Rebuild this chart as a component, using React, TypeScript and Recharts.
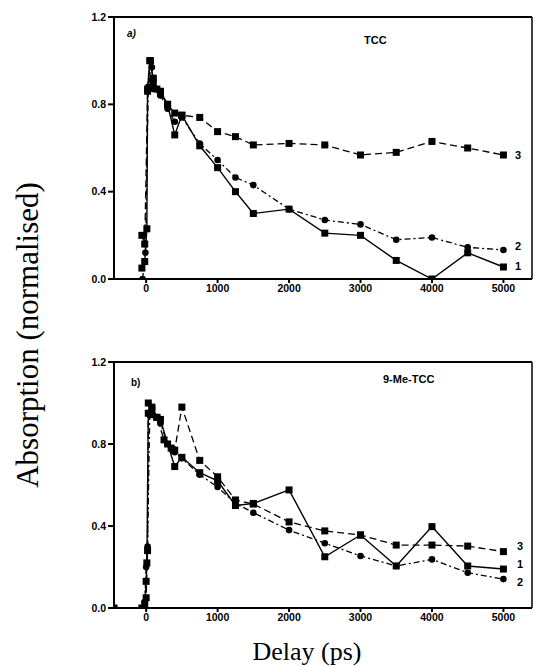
import React from 'react';
import { LineChart, Line, XAxis, YAxis, ReferenceLine } from 'recharts';

// panel a) TCC
const tccX1 = [-60, -20, 10, 20, 50, 100, 150, 200, 300, 400, 500, 750, 1000, 1250, 1500, 2000, 2500, 3000, 3500, 4000, 4500, 5000];
const tccY1 = [0.05, 0.08, 0.23, 0.87, 1.0, 0.92, 0.87, 0.85, 0.8, 0.66, 0.75, 0.61, 0.51, 0.4, 0.3, 0.32, 0.21, 0.2, 0.085, 0.0, 0.12, 0.055];
const tccX2 = [-50, -10, 30, 80, 100, 200, 300, 400, 500, 750, 1000, 1250, 1500, 2000, 2500, 3000, 3500, 4000, 4500, 5000];
const tccY2 = [0.0, 0.12, 0.88, 0.97, 0.87, 0.84, 0.78, 0.72, 0.74, 0.62, 0.545, 0.465, 0.43, 0.32, 0.27, 0.25, 0.18, 0.19, 0.145, 0.133];
const tccX3 = [-60, -20, 20, 60, 100, 200, 300, 400, 500, 750, 1000, 1250, 1500, 2000, 2500, 3000, 3500, 4000, 4500, 5000];
const tccY3 = [0.2, 0.16, 0.86, 1.0, 0.9, 0.86, 0.8, 0.76, 0.75, 0.74, 0.675, 0.652, 0.614, 0.621, 0.614, 0.568, 0.58, 0.63, 0.6, 0.568];

// panel b) 9-Me-TCC
const meX1 = [-20, 0, 10, 30, 80, 150, 200, 300, 400, 500, 750, 1000, 1250, 1500, 2000, 2500, 3000, 3500, 4000, 4500, 5000];
const meY1 = [0.02, 0.13, 0.22, 0.95, 0.98, 0.93, 0.92, 0.8, 0.69, 0.735, 0.66, 0.62, 0.5, 0.51, 0.576, 0.25, 0.356, 0.205, 0.397, 0.205, 0.19];
const meX2 = [-20, 0, 20, 50, 100, 200, 300, 400, 500, 750, 1000, 1250, 1500, 2000, 2500, 3000, 3500, 4000, 4500, 5000];
const meY2 = [0.03, 0.2, 0.3, 0.94, 0.94, 0.9, 0.8, 0.76, 0.73, 0.65, 0.59, 0.51, 0.465, 0.38, 0.316, 0.254, 0.205, 0.237, 0.172, 0.141];
const meX3 = [-450, -60, 0, 20, 30, 80, 150, 250, 350, 400, 500, 750, 1000, 1250, 1500, 2000, 2500, 3000, 3500, 4000, 4500, 5000];
const meY3 = [0.0, 0.0, 0.05, 0.28, 1.0, 0.97, 0.93, 0.82, 0.78, 0.77, 0.98, 0.72, 0.64, 0.527, 0.507, 0.42, 0.376, 0.356, 0.307, 0.307, 0.302, 0.275];

const xTicks = [0, 1000, 2000, 3000, 4000, 5000];
const yTicks = [0, 0.4, 0.8, 1.2];
const seriesLabels = ['1', '2', '3'];

const pts = (xs: number[], ys: number[]) => xs.map((x, i) => ({ x, y: ys[i] }));

const Square = (props: any) => {
  const { cx, cy, key } = props;
  if (cx == null || cy == null) return <g key={key} />;
  return <rect key={key} x={cx - 3.5} y={cy - 3.5} width={7} height={7} fill="#000" />;
};
const Circle = (props: any) => {
  const { cx, cy, key } = props;
  if (cx == null || cy == null) return <g key={key} />;
  return <circle key={key} cx={cx} cy={cy} r={3.3} fill="#000" />;
};

const tickStyle = { fontFamily: "'Liberation Sans', Arial, sans-serif", fontWeight: 700, fontSize: 10.5, fill: '#000' };
const serif = "'Liberation Serif', 'Times New Roman', 'DejaVu Serif', serif";

interface PanelProps {
  s1: { x: number; y: number }[];
  s2: { x: number; y: number }[];
  s3: { x: number; y: number }[];
  bottom: number;
}

const Panel: React.FC<PanelProps> = ({ s1, s2, s3, bottom }) => (
  <LineChart width={535} height={300} margin={{ top: 17, right: 3, left: 74, bottom }}>
    <XAxis
      type="number"
      dataKey="x"
      domain={[-450, 5400]}
      ticks={xTicks}
      allowDataOverflow
      height={20}
      tickSize={4}
      tick={tickStyle}
      stroke="#000"
      strokeWidth={2}
    />
    <YAxis
      type="number"
      dataKey="y"
      domain={[0, 1.2]}
      ticks={yTicks}
      allowDataOverflow
      width={40}
      tickSize={6}
      tick={tickStyle}
      tickFormatter={(v: number) => v.toFixed(1)}
      stroke="#000"
      strokeWidth={2}
    />
    <ReferenceLine y={1.2} stroke="#000" strokeWidth={2} />
    <ReferenceLine x={5400} stroke="#000" strokeWidth={1.5} />
    <Line data={s3} dataKey="y" stroke="#000" strokeWidth={1.3} strokeDasharray="7 4" dot={Square} isAnimationActive={false} />
    <Line data={s2} dataKey="y" stroke="#000" strokeWidth={1.3} strokeDasharray="6 3 2 3" dot={Circle} isAnimationActive={false} />
    <Line data={s1} dataKey="y" stroke="#000" strokeWidth={1.4} dot={Square} isAnimationActive={false} />
  </LineChart>
);

const boldText: React.CSSProperties = {
  position: 'absolute',
  fontFamily: "'Liberation Sans', Arial, sans-serif",
  fontWeight: 700,
  fontSize: 11,
  lineHeight: '11px',
  color: '#000',
};

export default function App() {
  return (
    <div style={{ position: 'fixed', left: 0, top: 0, width: 535, height: 666, background: '#fff', overflow: 'hidden' }}>
      <div style={{ position: 'absolute', left: 0, top: 0 }}>
        <Panel s1={pts(tccX1, tccY1)} s2={pts(tccX2, tccY2)} s3={pts(tccX3, tccY3)} bottom={1} />
      </div>
      <div style={{ position: 'absolute', left: 0, top: 345 }}>
        <Panel s1={pts(meX1, meY1)} s2={pts(meX2, meY2)} s3={pts(meX3, meY3)} bottom={17} />
      </div>

      <span style={{ ...boldText, left: 127, top: 28, fontStyle: 'italic', fontSize: 10 }}>a)</span>
      <span style={{ ...boldText, left: 364, top: 35 }}>TCC</span>
      <span style={{ ...boldText, left: 131, top: 377, fontSize: 10 }}>b)</span>
      <span style={{ ...boldText, left: 383, top: 374 }}>9-Me-TCC</span>

      <span style={{ ...boldText, left: 515, top: 150 }}>{seriesLabels[2]}</span>
      <span style={{ ...boldText, left: 515, top: 241 }}>{seriesLabels[1]}</span>
      <span style={{ ...boldText, left: 515, top: 261 }}>{seriesLabels[0]}</span>

      <span style={{ ...boldText, left: 517, top: 541 }}>{seriesLabels[2]}</span>
      <span style={{ ...boldText, left: 517, top: 559 }}>{seriesLabels[0]}</span>
      <span style={{ ...boldText, left: 517, top: 577 }}>{seriesLabels[1]}</span>

      <div
        style={{
          position: 'absolute',
          left: 28,
          top: 335,
          transform: 'translate(-50%, -50%) rotate(-90deg)',
          fontFamily: serif,
          fontSize: 31,
          whiteSpace: 'nowrap',
          color: '#000',
        }}
      >
        Absorption (normalised)
      </div>
      <div
        style={{
          position: 'absolute',
          left: 307,
          top: 652,
          transform: 'translate(-50%, -50%)',
          fontFamily: serif,
          fontSize: 26,
          whiteSpace: 'nowrap',
          color: '#000',
        }}
      >
        Delay (ps)
      </div>
    </div>
  );
}
